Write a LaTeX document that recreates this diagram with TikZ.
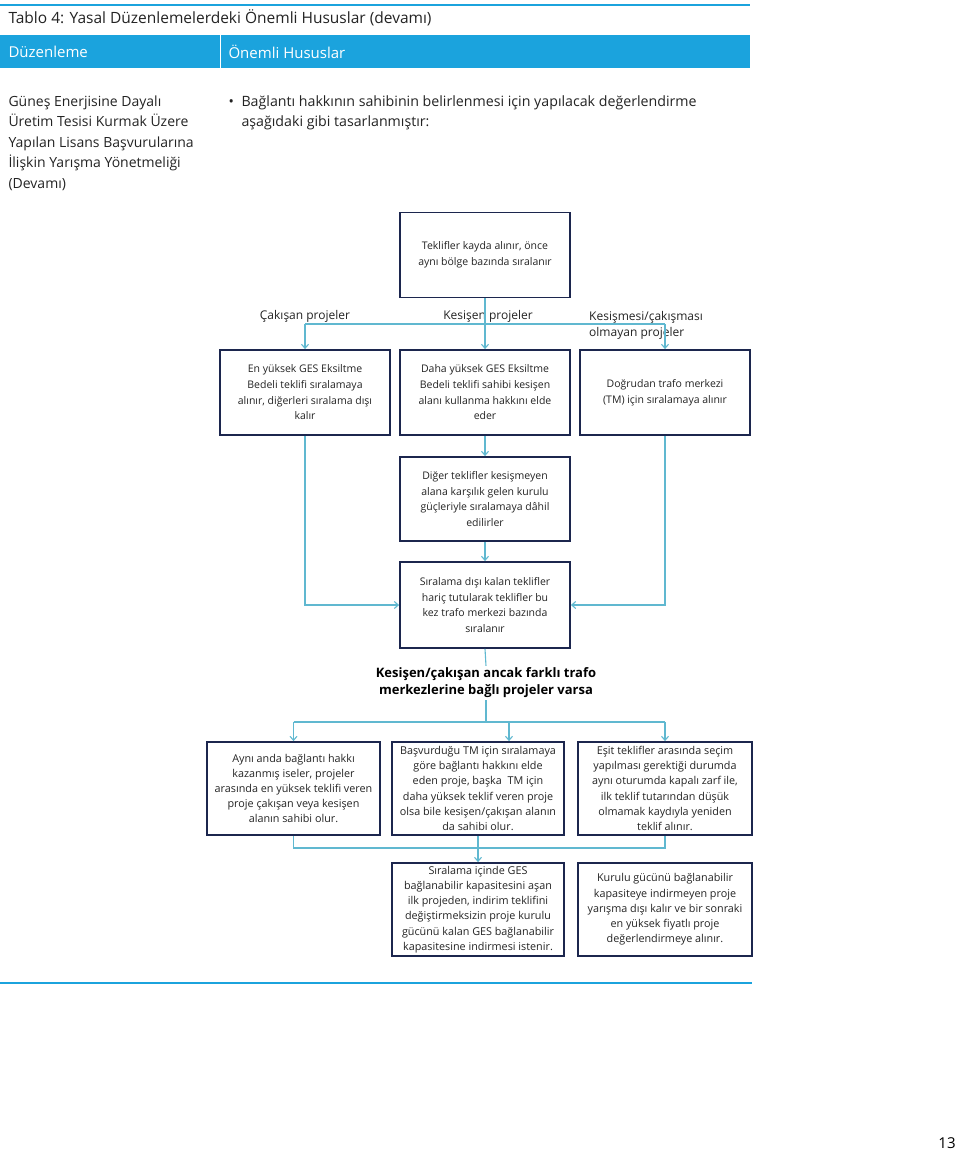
\documentclass[tikz,border=0pt]{standalone}
\usepackage{fontspec}
\setmainfont{Open Sans}
\usetikzlibrary{calc,arrows.meta}
\definecolor{baslik}{RGB}{27,163,221}
\definecolor{cizgi}{RGB}{96,184,208}
\definecolor{kutu}{RGB}{28,38,78}
\definecolor{yazi}{RGB}{35,35,35}

\begin{document}
\begin{tikzpicture}[x=1pt,y=-1pt]
\tikzstyle{box}=[draw=kutu, line width=1.8pt, rectangle, align=center, inner sep=0pt, text=yazi, font=\fontsize{10.5}{15.7}\selectfont]
\tikzstyle{altbox}=[box, minimum height=93, font=\fontsize{10.8}{15.2}\selectfont]
\tikzstyle{etiket}=[inner sep=1pt, text=yazi, font=\fontsize{12}{16}\selectfont]
\tikzstyle{hat}=[draw=cizgi, line width=1.1pt]
\tikzstyle{ok}=[hat, -{Straight Barb[length=4pt,width=7pt]}]

\useasboundingbox (0,0) rectangle (960,1153);

% Table head
\draw[baslik, line width=2pt] (0,5) -- (750,5);
\node[anchor=west, text=yazi, font=\fontsize{15.5}{18}\selectfont] (tablo) at (5,18) {Tablo 4: Yasal Düzenlemelerdeki Önemli Hususlar (devamı)};
\fill[baslik] (0,35) rectangle (750,68);
\draw[white, line width=1pt] (220,35) -- (220,68);
\node[anchor=west, text=white, font=\fontsize{15}{18}\selectfont] (duzenleme) at (5,52) {Düzenleme};
\node[anchor=west, text=white, font=\fontsize{15}{18}\selectfont] (hususlar) at (225,52) {Önemli Hususlar};

% Left column and bullet
\node[anchor=north west, align=left, text=yazi, font=\fontsize{14}{20.6}\selectfont] (yonetmelik) at (5,92) {Güneş Enerjisine Dayalı\\Üretim Tesisi Kurmak Üzere\\Yapılan Lisans Başvurularına\\İlişkin Yarışma Yönetmeliği\\(Devamı)};
\node[anchor=north west, align=left, text=yazi, font=\fontsize{14.2}{20.6}\selectfont] (madde) at (225,92) {\makebox[13pt][l]{•}Bağlantı hakkının sahibinin belirlenmesi için yapılacak değerlendirme\\\hspace*{13pt}aşağıdaki gibi tasarlanmıştır:};

% First level
\node[box, minimum width=170, minimum height=85] (teklif) at (485,255) {Teklifler kayda alınır, önce\\aynı bölge bazında sıralanır};

\node[etiket] (lcakisan) at (305,316) {Çakışan projeler};
\node[etiket] (lkesisen) at (488,316) {Kesişen projeler};
\node[etiket, anchor=north west, align=left] (lkesismeyen) at (588,310) {Kesişmesi/çakışması\\olmayan projeler};

\node[box, minimum width=170, minimum height=85] (cakisan) at (305,392.5) {En yüksek GES Eksiltme\\Bedeli teklifi sıralamaya\\alınır, diğerleri sıralama dışı\\kalır};
\node[box, minimum width=170, minimum height=85] (kesisen) at (485,392.5) {Daha yüksek GES Eksiltme\\Bedeli teklifi sahibi kesişen\\alanı kullanma hakkını elde\\eder};
\node[box, minimum width=170, minimum height=85] (kesismeyen) at (665,392.5) {Doğrudan trafo merkezi\\(TM) için sıralamaya alınır};

\coordinate (bolme) at (485,324);
\draw[ok] (teklif.south) -- (kesisen.north);
\draw[hat] (cakisan.north |- bolme) -- (kesismeyen.north |- bolme);
\draw[ok] (cakisan.north |- bolme) -- (cakisan.north);
\draw[ok] (kesismeyen.north |- bolme) -- (kesismeyen.north);

% Middle column
\node[box, minimum width=170, minimum height=84] (diger) at (485,499) {Diğer teklifler kesişmeyen\\alana karşılık gelen kurulu\\güçleriyle sıralamaya dâhil\\edilirler};
\node[box, minimum width=170, minimum height=86] (sirala) at (485,605) {Sıralama dışı kalan teklifler\\hariç tutularak teklifler bu\\kez trafo merkezi bazında\\sıralanır};

\draw[ok] (kesisen.south) -- (diger.north);
\draw[ok] (diger.south) -- (sirala.north);
\draw[ok] (cakisan.south) |- (sirala.west);
\draw[ok] (kesismeyen.south) |- (sirala.east);

\node[align=center, inner sep=2pt, text=black, font=\bfseries\fontsize{13}{17}\selectfont] (farkli) at (486,683) {Kesişen/çakışan ancak farklı trafo\\merkezlerine bağlı projeler varsa};
\draw[hat] (sirala.south) -- (farkli.north);

% Second level
\node[altbox, minimum width=173] (ayni) at (293.5,788.5) {Aynı anda bağlantı hakkı\\kazanmış iseler, projeler\\arasında en yüksek teklifi veren\\proje çakışan veya kesişen\\alanın sahibi olur.};
\node[altbox, minimum width=172] (basvuru) at (478,788.5) {Başvurduğu TM için sıralamaya\\göre bağlantı hakkını elde\\eden proje, başka~ TM için\\daha yüksek teklif veren proje\\olsa bile kesişen/çakışan alanın\\da sahibi olur.};
\node[altbox, minimum width=174] (esit) at (665,788.5) {Eşit teklifler arasında seçim\\yapılması gerektiği durumda\\aynı oturumda kapalı zarf ile,\\ilk teklif tutarından düşük\\olmamak kaydıyla yeniden\\teklif alınır.};

\coordinate (bolme2) at (486,722);
\coordinate (bvok) at (509,722);
\draw[hat] (farkli.south) -- (bolme2);
\draw[hat] (ayni.north |- bolme2) -- (esit.north |- bolme2);
\draw[ok] (ayni.north |- bolme2) -- (ayni.north);
\draw[ok] (bvok) -- (bvok |- basvuru.north);
\draw[ok] (esit.north |- bolme2) -- (esit.north);

\node[altbox, minimum width=172] (sinir) at (478,909.5) {Sıralama içinde GES\\bağlanabilir kapasitesini aşan\\ilk projeden, indirim teklifini\\değiştirmeksizin proje kurulu\\gücünü kalan GES bağlanabilir\\kapasitesine indirmesi istenir.};
\node[altbox, minimum width=174] (kurulu) at (665,909.5) {Kurulu gücünü bağlanabilir\\kapasiteye indirmeyen proje\\yarışma dışı kalır ve bir sonraki\\en yüksek fiyatlı proje\\değerlendirmeye alınır.};

\coordinate (birles) at (478,848);
\draw[hat] (ayni.south) |- (birles) -| (esit.south);
\draw[ok] (basvuru.south) -- (sinir.north);

% Foot
\draw[baslik, line width=2pt] (0,983) -- (752,983);
\node[text=black, font=\fontsize{15}{18}\selectfont] (sayfa) at (947,1143) {13};
\end{tikzpicture}
\end{document}
